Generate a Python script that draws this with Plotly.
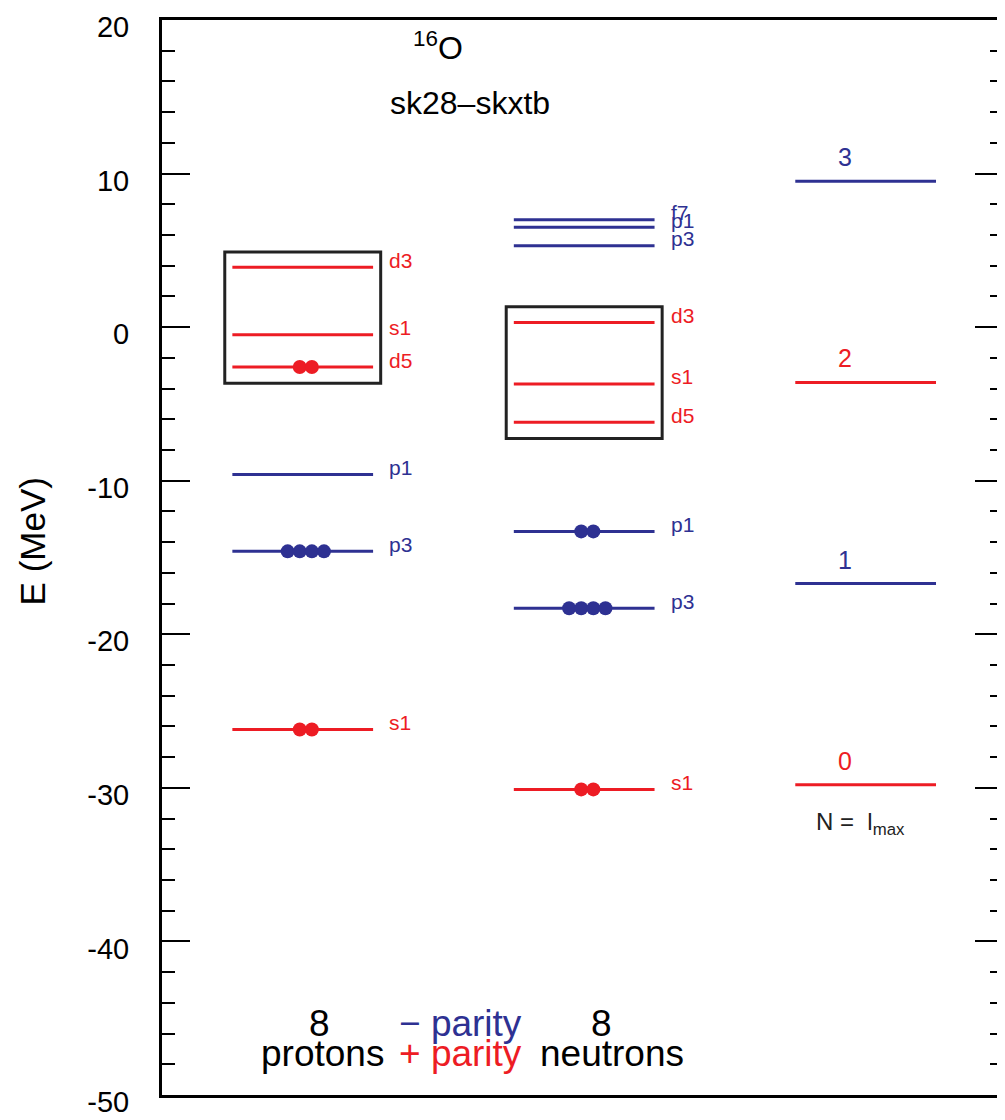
import plotly.graph_objects as go

# ---------------- data ----------------
proton_orbits = ["s1", "p3", "p1", "d5", "s1", "d3"]
proton_E = [-26.2, -14.6, -9.6, -2.6, -0.5, 3.9]
proton_parity = ["+", "-", "-", "+", "+", "+"]
proton_occ = [2, 4, 0, 2, 0, 0]

neutron_orbits = ["s1", "p3", "p1", "d5", "s1", "d3", "p3", "p1", "f7"]
neutron_E = [-30.1, -18.3, -13.3, -6.2, -3.7, 0.3, 5.3, 6.5, 7.0]
neutron_parity = ["+", "-", "-", "+", "+", "+", "-", "-", "-"]
neutron_occ = [2, 4, 2, 0, 0, 0, 0, 0, 0]

lmax_labels = ["0", "1", "2", "3"]
lmax_E = [-29.8, -16.7, -3.6, 9.5]
lmax_parity = ["+", "-", "+", "-"]

proton_box = [-3.65, 4.9]   # bottom, top of valence box
neutron_box = [-7.25, 1.32]

proton_count = "8"
neutron_count = "8"

y_tickvals = [-50, -40, -30, -20, -10, 0, 10, 20]
y_ticktext = ["-50", "-40", "-30", "-20", "-10", "0", "10", "20"]

# ---------------- style ----------------
BLUE = "#2E3192"
RED = "#ED1C24"
FONT = "Liberation Sans, Arial, Helvetica, sans-serif"
HALF = 0.25       # half width of a level line (x units)
BOXHALF = 0.277
DOT_DX = 0.043

def pcol(p):
    return RED if p == "+" else BLUE

fig = go.Figure()
annotations = []
shapes = []

def add_column(xc, energies, parities, labels, occ):
    for E, p, lab, n in zip(energies, parities, labels, occ):
        c = pcol(p)
        fig.add_trace(go.Scatter(x=[xc - HALF, xc + HALF], y=[E, E], mode="lines",
                                 line=dict(color=c, width=3), showlegend=False,
                                 hoverinfo="skip"))
        if n:
            xs = [xc + 0.011 + (i - (n - 1) / 2) * DOT_DX for i in range(n)]
            fig.add_trace(go.Scatter(x=xs, y=[E] * n, mode="markers",
                                     marker=dict(color=c, size=14, line=dict(width=0)),
                                     showlegend=False, hoverinfo="skip"))
        annotations.append(dict(x=xc + 0.3, y=E, xref="x", yref="y", text=lab,
                                showarrow=False, xanchor="left", yanchor="middle",
                                yshift=7, font=dict(family=FONT, size=21, color=c)))

add_column(0.0, proton_E, proton_parity, proton_orbits, proton_occ)
add_column(1.0, neutron_E, neutron_parity, neutron_orbits, neutron_occ)

# lmax column
for E, p, lab in zip(lmax_E, lmax_parity, lmax_labels):
    c = pcol(p)
    fig.add_trace(go.Scatter(x=[2.0 - HALF, 2.0 + HALF], y=[E, E], mode="lines",
                             line=dict(color=c, width=3), showlegend=False,
                             hoverinfo="skip"))
    annotations.append(dict(x=2.0 - 0.073, y=E, xref="x", yref="y", text=lab,
                            showarrow=False, xanchor="center", yanchor="middle",
                            yshift=24, font=dict(family=FONT, size=25, color=c)))

# valence boxes
for xc, (b, t) in [(0.0, proton_box), (1.0, neutron_box)]:
    shapes.append(dict(type="rect", xref="x", yref="y", x0=xc - BOXHALF, x1=xc + BOXHALF,
                       y0=b, y1=t, line=dict(color="#222222", width=3)))

BIG = 37
annotations += [
    dict(x=0.48, y=1.0, xref="x", yref="paper", text="<sup>16</sup>O", showarrow=False,
         xanchor="center", yanchor="middle", yshift=-26,
         font=dict(family=FONT, size=32, color="black")),
    dict(x=0.595, y=1.0, xref="x", yref="paper", text="sk28\u2013skxtb", showarrow=False,
         xanchor="center", yanchor="middle", yshift=-83,
         font=dict(family=FONT, size=32, color="black")),
    dict(x=1.98, y=lmax_E[0], xref="x", yref="y", text="N =  l<sub>max</sub>", showarrow=False,
         xanchor="center", yanchor="middle", yshift=-39,
         font=dict(family=FONT, size=24, color="#222222")),
    dict(x=0.06, y=0.0, xref="x", yref="paper", text=proton_count, showarrow=False,
         xanchor="center", yanchor="middle", yshift=72,
         font=dict(family=FONT, size=BIG, color="black")),
    dict(x=0.07, y=0.0, xref="x", yref="paper", text="protons", showarrow=False,
         xanchor="center", yanchor="middle", yshift=42,
         font=dict(family=FONT, size=BIG, color="black")),
    dict(x=1.06, y=0.0, xref="x", yref="paper", text=neutron_count, showarrow=False,
         xanchor="center", yanchor="middle", yshift=72,
         font=dict(family=FONT, size=BIG, color="black")),
    dict(x=1.1, y=0.0, xref="x", yref="paper", text="neutrons", showarrow=False,
         xanchor="center", yanchor="middle", yshift=42,
         font=dict(family=FONT, size=BIG, color="black")),
    dict(x=0.56, y=0.0, xref="x", yref="paper", text="\u2212 parity",
         showarrow=False, xanchor="center", yanchor="middle", yshift=72,
         font=dict(family=FONT, size=BIG, color=BLUE)),
    dict(x=0.56, y=0.0, xref="x", yref="paper", text="+ parity",
         showarrow=False, xanchor="center", yanchor="middle", yshift=42,
         font=dict(family=FONT, size=BIG, color=RED)),
    dict(x=0, y=0.515, xref="paper", yref="paper", text="E (MeV)", showarrow=False,
         textangle=-90, xanchor="center", yanchor="middle", xshift=-130,
         font=dict(family=FONT, size=35, color="black")),
]

# The page body has an 8px default margin, so the figure is sized/offset to
# put the plot frame at x 162..1003, y 20..1095 in the window.
fig.update_layout(
    width=997, height=1112,
    margin=dict(l=154, r=2, t=12, b=25, autoexpand=False),
    paper_bgcolor="white", plot_bgcolor="white",
    showlegend=False,
    annotations=annotations, shapes=shapes,
    xaxis=dict(range=[-0.5, 2.488], showgrid=False, zeroline=False, automargin=False,
               showticklabels=False, ticks="", showline=True, linecolor="black",
               linewidth=3, mirror=True, fixedrange=True),
    yaxis=dict(range=[-50, 20], showgrid=False, zeroline=False, automargin=False,
               tickvals=y_tickvals, ticktext=y_ticktext,
               ticks="inside", ticklen=28, tickwidth=2, tickcolor="black",
               minor=dict(dtick=2, ticks="inside", ticklen=13, tickwidth=2,
                          tickcolor="black", showgrid=False),
               showline=True, linecolor="black", linewidth=3, mirror="allticks",
               ticklabelstandoff=24, ticklabelshift=7, ticklabeloverflow="allow",
               tickfont=dict(family=FONT, size=29, color="black")),
)

fig.write_html("out.html")
